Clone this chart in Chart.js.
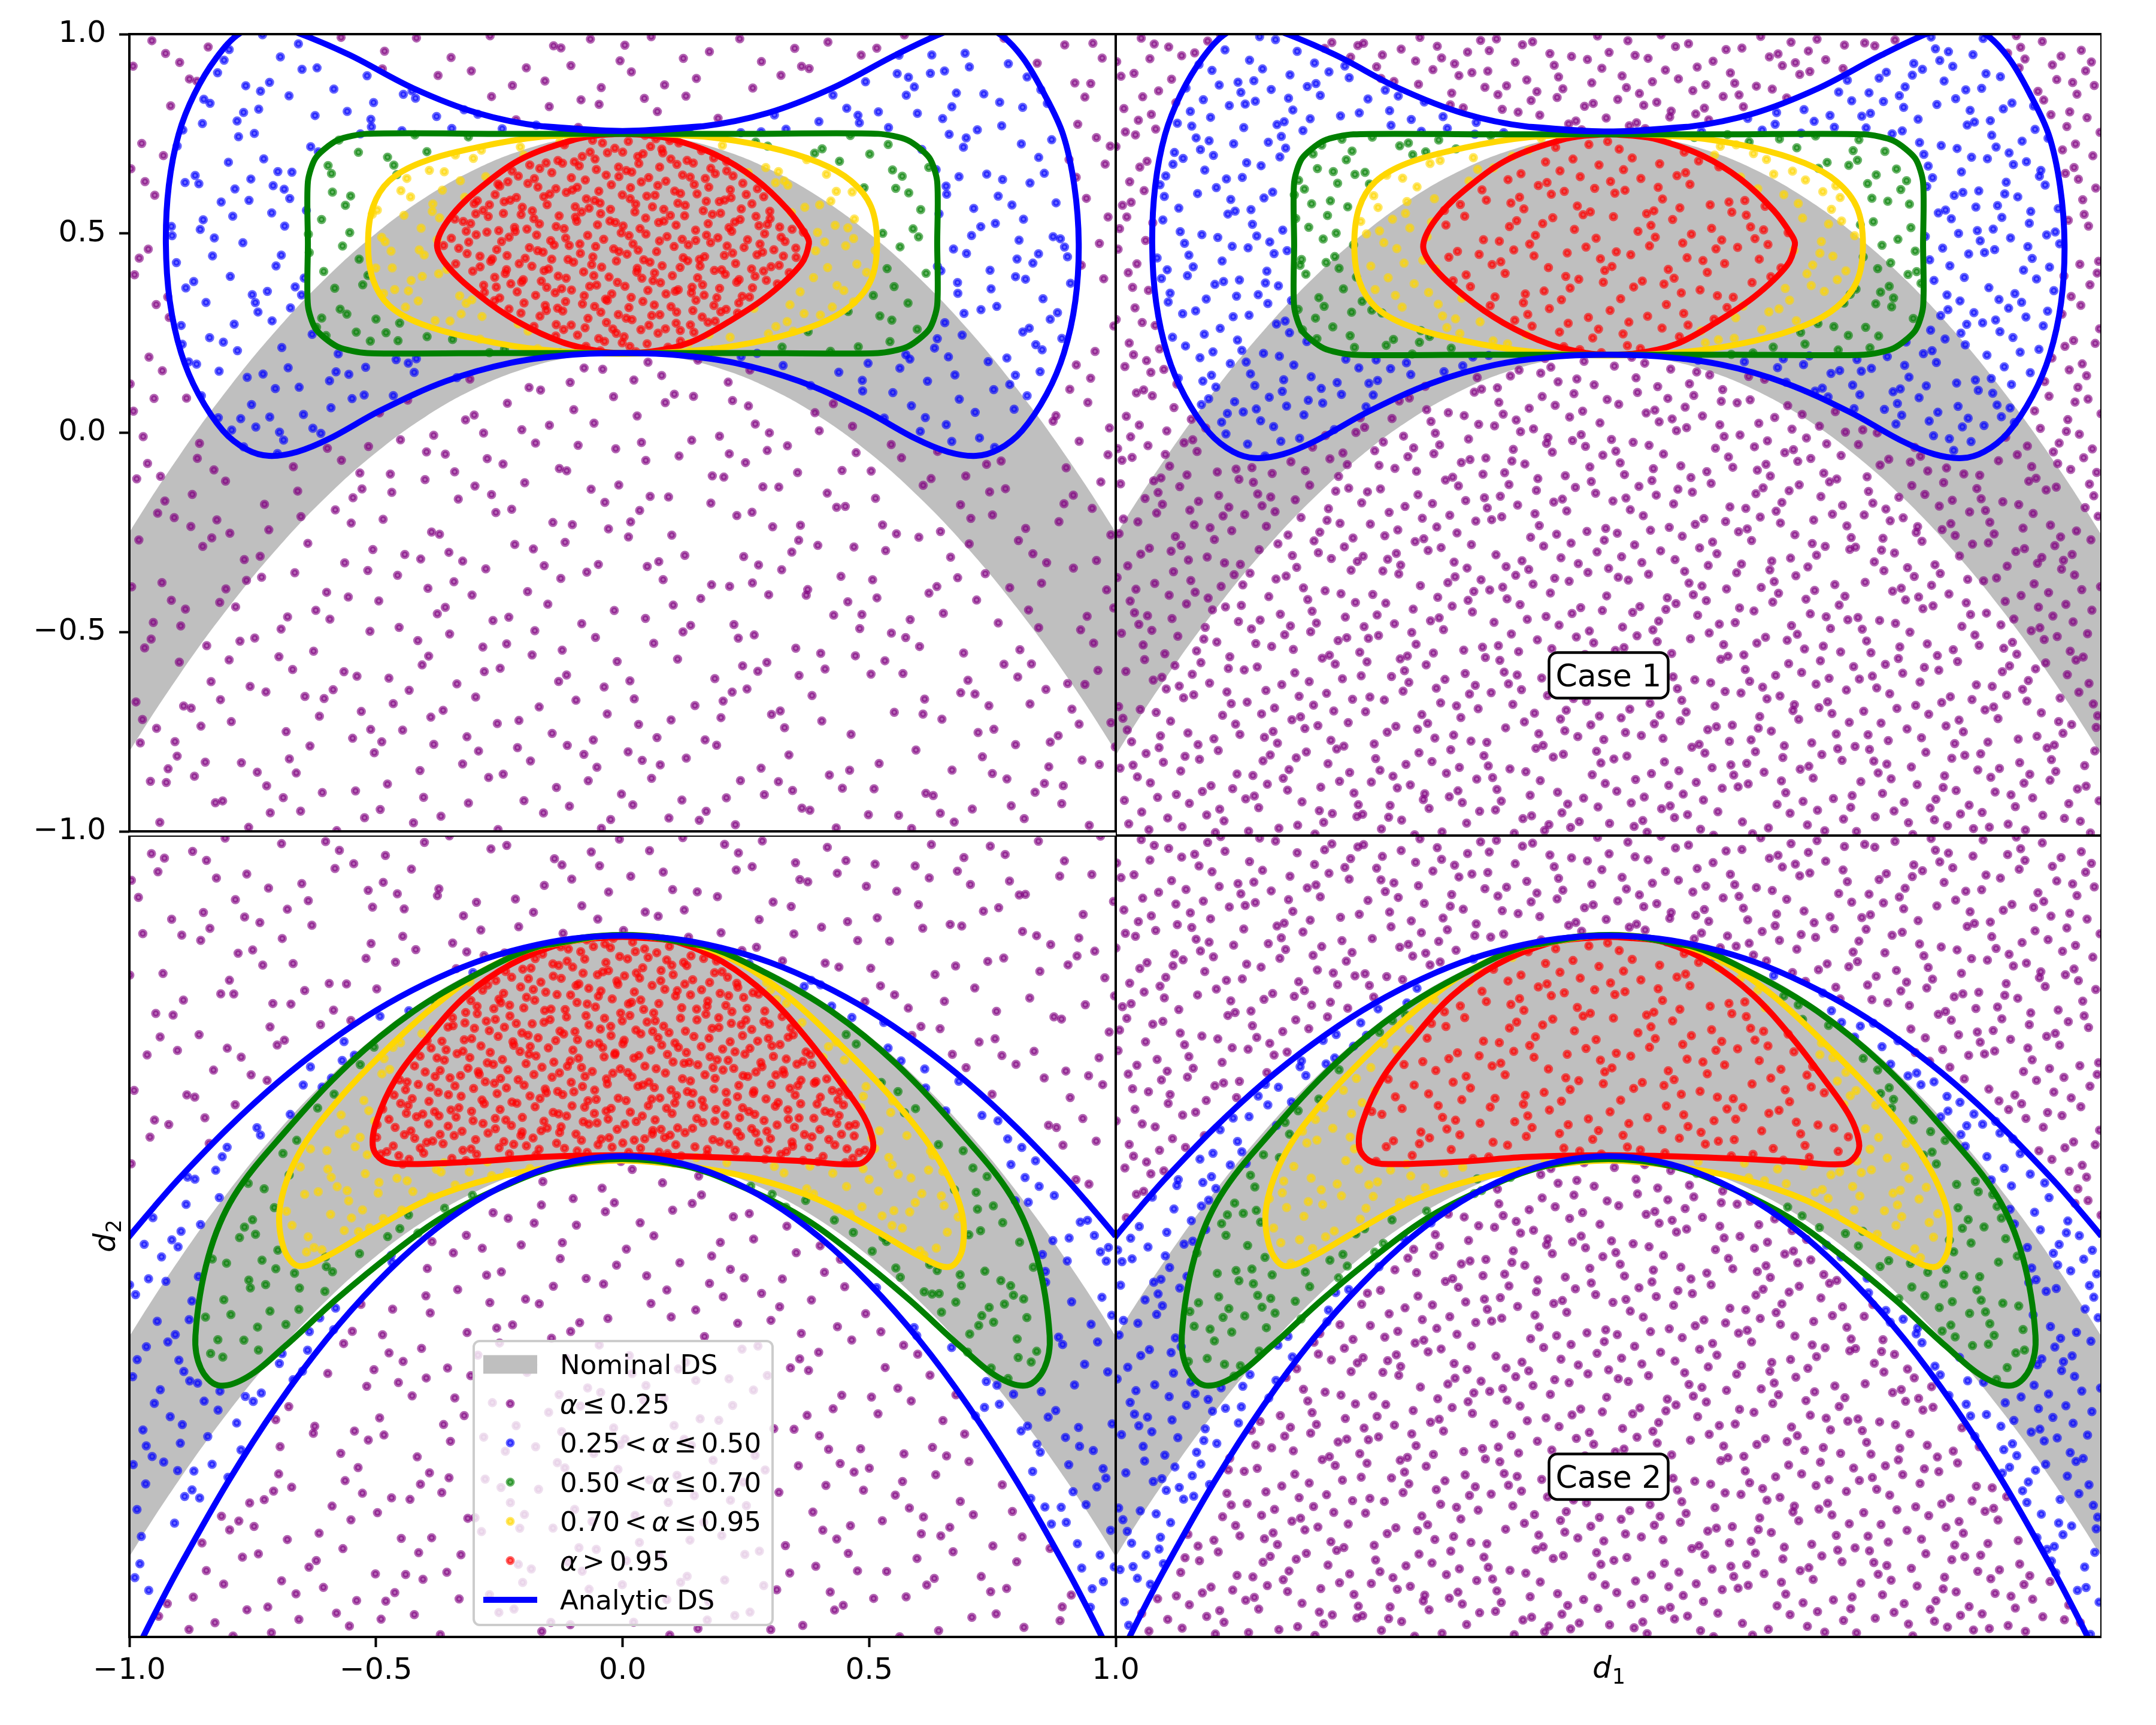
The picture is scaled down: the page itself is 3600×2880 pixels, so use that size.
<!DOCTYPE html>
<html>
<head>
<meta charset="utf-8">
<script src="https://cdn.jsdelivr.net/npm/chart.js@4.4.1/dist/chart.umd.min.js"></script>
<style>
  html, body { margin: 0; padding: 0; background: #ffffff; }
  #fig { position: relative; width: 3600px; height: 2880px; background: #ffffff; overflow: hidden; }
  #fig canvas { position: absolute; }
</style>
</head>
<body>
<div id="fig">
  <canvas id="tl"></canvas>
  <canvas id="tr"></canvas>
  <canvas id="bl"></canvas>
  <canvas id="br"></canvas>
</div>
<script>
// ---------------- data ----------------
const TICK_VALUES = [-1, -0.5, 0, 0.5, 1];
const TICK_LABELS = ['\u22121.0', '\u22120.5', '0.0', '0.5', '1.0'];

// Nominal DS band (grey), same in all four panels
const NOMINAL_D1    = [-1.1, -1.0, -0.9, -0.8, -0.7, -0.6, -0.5, -0.4, -0.3, -0.2, -0.1, 0, 0.1, 0.2, 0.3, 0.4, 0.5, 0.6, 0.7, 0.8, 0.9, 1.0, 1.1];
const NOMINAL_UPPER = [-0.46, -0.25, -0.06, 0.11, 0.26, 0.39, 0.5, 0.59, 0.66, 0.71, 0.74, 0.75, 0.74, 0.71, 0.66, 0.59, 0.5, 0.39, 0.26, 0.11, -0.06, -0.25, -0.46];
const NOMINAL_LOWER = [-1.01, -0.8, -0.61, -0.44, -0.29, -0.16, -0.05, 0.04, 0.11, 0.16, 0.19, 0.2, 0.19, 0.16, 0.11, 0.04, -0.05, -0.16, -0.29, -0.44, -0.61, -0.8, -1.01];

// Case 1 (top row) contours, closed curves [d1, d2]
const CASE1_ANALYTIC = [[0,0.757],[0.164,0.769],[0.294,0.802],[0.424,0.864],[0.554,0.948],[0.655,1.006],[0.712,1.024],[0.765,1.0],[0.812,0.94],[0.855,0.85],[0.893,0.749],[0.916,0.62],[0.925,0.475],[0.918,0.33],[0.895,0.2],[0.86,0.097],[0.81,0.005],[0.762,-0.042],[0.717,-0.058],[0.66,-0.048],[0.593,-0.014],[0.489,0.057],[0.359,0.129],[0.229,0.175],[0.099,0.196],[0,0.2],[-0.099,0.196],[-0.229,0.175],[-0.359,0.129],[-0.489,0.057],[-0.593,-0.014],[-0.66,-0.048],[-0.717,-0.058],[-0.762,-0.042],[-0.81,0.005],[-0.86,0.097],[-0.895,0.2],[-0.918,0.33],[-0.926,0.475],[-0.92,0.62],[-0.9,0.749],[-0.868,0.85],[-0.824,0.94],[-0.775,1.003],[-0.718,1.024],[-0.66,1.004],[-0.554,0.948],[-0.424,0.864],[-0.294,0.802],[-0.164,0.769]];
const CASE1_A50 = [[0,0.75],[0.26,0.75],[0.518,0.75],[0.578,0.734],[0.622,0.69],[0.638,0.63],[0.638,0.475],[0.638,0.32],[0.622,0.26],[0.578,0.216],[0.518,0.2],[0.26,0.2],[0,0.2],[-0.26,0.2],[-0.518,0.2],[-0.578,0.216],[-0.622,0.26],[-0.638,0.32],[-0.638,0.475],[-0.638,0.63],[-0.622,0.69],[-0.578,0.734],[-0.518,0.75],[-0.26,0.75]];
const CASE1_A70 = [[0,0.753],[0.164,0.743],[0.294,0.717],[0.398,0.678],[0.463,0.632],[0.504,0.567],[0.516,0.475],[0.504,0.384],[0.463,0.319],[0.398,0.273],[0.294,0.234],[0.164,0.208],[0,0.198],[-0.161,0.208],[-0.291,0.234],[-0.408,0.273],[-0.473,0.319],[-0.506,0.384],[-0.516,0.475],[-0.506,0.567],[-0.473,0.632],[-0.408,0.678],[-0.291,0.717],[-0.161,0.743]];
const CASE1_A95 = [[0,0.75],[0.045,0.747],[0.099,0.737],[0.19,0.697],[0.268,0.638],[0.335,0.56],[0.372,0.497],[0.378,0.475],[0.362,0.423],[0.296,0.345],[0.216,0.279],[0.138,0.227],[0.06,0.204],[0,0.2],[-0.044,0.204],[-0.122,0.227],[-0.213,0.279],[-0.291,0.345],[-0.358,0.423],[-0.376,0.475],[-0.345,0.547],[-0.278,0.625],[-0.2,0.69],[-0.096,0.736],[-0.045,0.747]];

// Case 2 (bottom row): analytic DS between two curves, plus closed contours
const CASE2_D1 = [-1.05, -1.0, -0.95, -0.9, -0.8, -0.7, -0.6, -0.5, -0.4, -0.3, -0.2, -0.1, 0, 0.1, 0.2, 0.3, 0.4, 0.5, 0.6, 0.7, 0.8, 0.9, 0.95, 1.0, 1.05];
const CASE2_ANALYTIC_UPPER = [-0.077, 0, 0.073, 0.143, 0.27, 0.383, 0.48, 0.563, 0.63, 0.683, 0.72, 0.743, 0.75, 0.743, 0.72, 0.683, 0.63, 0.563, 0.48, 0.383, 0.27, 0.143, 0.073, 0, -0.077];
const CASE2_ANALYTIC_LOWER = [-1.2, -1.07, -0.946, -0.829, -0.613, -0.422, -0.257, -0.118, -0.003, 0.086, 0.149, 0.187, 0.2, 0.187, 0.149, 0.086, -0.003, -0.118, -0.257, -0.422, -0.613, -0.829, -0.946, -1.07, -1.2];
const CASE2_A50 = [[0,0.752],[0.164,0.725],[0.294,0.655],[0.424,0.561],[0.554,0.431],[0.684,0.261],[0.788,0.1],[0.84,-0.052],[0.866,-0.248],[0.855,-0.33],[0.82,-0.372],[0.762,-0.352],[0.684,-0.274],[0.58,-0.157],[0.463,-0.039],[0.359,0.052],[0.229,0.131],[0.125,0.176],[0,0.193],[-0.125,0.176],[-0.229,0.131],[-0.359,0.052],[-0.463,-0.039],[-0.58,-0.157],[-0.684,-0.274],[-0.762,-0.352],[-0.82,-0.372],[-0.855,-0.33],[-0.866,-0.248],[-0.84,-0.052],[-0.788,0.1],[-0.684,0.261],[-0.554,0.431],[-0.424,0.561],[-0.294,0.655],[-0.164,0.725]];
const CASE2_A70 = [[0,0.752],[0.138,0.731],[0.242,0.679],[0.333,0.601],[0.437,0.483],[0.541,0.352],[0.632,0.209],[0.684,0.078],[0.69,-0.026],[0.664,-0.076],[0.606,-0.052],[0.515,0.013],[0.398,0.091],[0.268,0.144],[0.125,0.176],[0,0.189],[-0.122,0.176],[-0.265,0.144],[-0.395,0.091],[-0.512,0.013],[-0.603,-0.052],[-0.658,-0.074],[-0.688,-0.026],[-0.694,0.078],[-0.655,0.209],[-0.577,0.339],[-0.486,0.457],[-0.382,0.574],[-0.278,0.666],[-0.161,0.725]];
const CASE2_A95 = [[0,0.747],[0.05,0.744],[0.112,0.734],[0.203,0.685],[0.294,0.601],[0.372,0.496],[0.437,0.392],[0.489,0.3],[0.508,0.235],[0.502,0.202],[0.476,0.18],[0.359,0.188],[0.164,0.198],[0,0.202],[-0.164,0.198],[-0.291,0.187],[-0.447,0.18],[-0.486,0.189],[-0.506,0.222],[-0.499,0.287],[-0.46,0.392],[-0.395,0.496],[-0.317,0.601],[-0.226,0.679],[-0.122,0.731],[-0.05,0.744]];

// Sample design (sample locations; colour class follows from the contours above)
const UNIFORM_SAMPLES = 2048;                        // right column: quasi-random uniform design
const ADAPTIVE_DENSITY = [230, 330, 380, 520, 1300]; // left column: samples per unit area per alpha class
const LEVEL_COLORS = ['rgba(128,0,128,0.6)', 'rgba(0,0,255,0.6)', 'rgba(0,128,0,0.6)', 'rgba(255,215,0,0.6)', 'rgba(255,0,0,0.6)'];
const LINE_COLORS = ['#0000ff', '#008000', '#ffd700', '#ff0000'];
const LEGEND_LABELS = ['Nominal DS', '\u03b1 \u2264 0.25', '0.25 < \u03b1 \u2264 0.50', '0.50 < \u03b1 \u2264 0.70', '0.70 < \u03b1 \u2264 0.95', '\u03b1 > 0.95', 'Analytic DS'];
const CASE_LABELS = ['Case 1', 'Case 2'];
const CASE_LABEL_POS = [0, -0.6];

// ---------------- helpers ----------------
Chart.defaults.font.family = "'DejaVu Sans'";
Chart.defaults.color = '#000000';

function radicalInverse(i, base) {
  let r = 0, f = 1 / base;
  while (i > 0) { r += f * (i % base); i = Math.floor(i / base); f /= base; }
  return r;
}
function inPoly(x, y, poly) {
  let inside = false;
  for (let i = 0, j = poly.length - 1; i < poly.length; j = i++) {
    const xi = poly[i][0], yi = poly[i][1], xj = poly[j][0], yj = poly[j][1];
    if (((yi > y) !== (yj > y)) && (x < (xj - xi) * (y - yi) / (yj - yi) + xi)) inside = !inside;
  }
  return inside;
}
const CASE2_ANALYTIC_POLY = CASE2_D1.map((x, i) => [x, CASE2_ANALYTIC_UPPER[i]])
  .concat(CASE2_D1.map((x, i) => [x, CASE2_ANALYTIC_LOWER[i]]).reverse());
const LEVELS = [
  [CASE1_ANALYTIC, CASE1_A50, CASE1_A70, CASE1_A95],
  [CASE2_ANALYTIC_POLY, CASE2_A50, CASE2_A70, CASE2_A95]
];
function alphaClass(x, y, lv) {
  if (inPoly(x, y, lv[3])) return 4;
  if (inPoly(x, y, lv[2])) return 3;
  if (inPoly(x, y, lv[1])) return 2;
  if (inPoly(x, y, lv[0])) return 1;
  return 0;
}
function uniformDesign(caseIdx) {
  const out = [];
  for (let i = 1; i <= UNIFORM_SAMPLES; i++) {
    const x = 2 * radicalInverse(i, 2) - 1, y = 2 * radicalInverse(i, 3) - 1;
    out.push({ x, y, c: alphaClass(x, y, LEVELS[caseIdx]) });
  }
  return out;
}
function adaptiveDesign(caseIdx, start) {
  const out = [];
  const dmax = Math.max(...ADAPTIVE_DENSITY);
  const n = dmax * 4;
  for (let i = 0; i < n; i++) {
    const k = start + i * 409;
    const x = 2 * radicalInverse(k, 2) - 1, y = 2 * radicalInverse(k, 3) - 1, u = radicalInverse(k, 5);
    const c = alphaClass(x, y, LEVELS[caseIdx]);
    if (u < ADAPTIVE_DENSITY[c] / dmax) out.push({ x, y, c });
  }
  return out;
}
function closedLoop(pts) {
  const n = pts.length;
  const seq = [pts[n - 1]].concat(pts, [pts[0], pts[1]]);
  return seq.map(p => ({ x: p[0], y: p[1] }));
}
function lineDs(data, color, tension) {
  return { data, showLine: true, borderColor: color, borderWidth: 10, pointRadius: 0, pointHoverRadius: 0,
           fill: false, tension: tension, order: 1, clip: 0 };
}
function buildDatasets(caseIdx, samples) {
  const ds = [];
  ds.push({ data: NOMINAL_D1.map((x, i) => ({ x, y: NOMINAL_UPPER[i] })), showLine: true, borderWidth: 0,
            borderColor: 'rgba(0,0,0,0)', pointRadius: 0, fill: '+1', backgroundColor: '#bfbfbf', tension: 0.4, order: 20, clip: 0 });
  ds.push({ data: NOMINAL_D1.map((x, i) => ({ x, y: NOMINAL_LOWER[i] })), showLine: true, borderWidth: 0,
            borderColor: 'rgba(0,0,0,0)', pointRadius: 0, fill: false, tension: 0.4, order: 20, clip: 0 });
  for (let c = 0; c < 5; c++) {
    ds.push({ data: samples.filter(s => s.c === c), showLine: false, pointRadius: 5, pointHoverRadius: 5,
              pointBorderWidth: 5.5, pointBackgroundColor: LEVEL_COLORS[c], pointBorderColor: LEVEL_COLORS[c],
              order: 10 - c, clip: 0 });
  }
  if (caseIdx === 0) {
    ds.push(lineDs(closedLoop(CASE1_ANALYTIC), LINE_COLORS[0], 0.35));
    ds.push(lineDs(closedLoop(CASE1_A50), LINE_COLORS[1], 0.25));
    ds.push(lineDs(closedLoop(CASE1_A70), LINE_COLORS[2], 0.35));
    ds.push(lineDs(closedLoop(CASE1_A95), LINE_COLORS[3], 0.35));
  } else {
    ds.push(lineDs(CASE2_D1.map((x, i) => ({ x, y: CASE2_ANALYTIC_UPPER[i] })), LINE_COLORS[0], 0.35));
    ds.push(lineDs(CASE2_D1.map((x, i) => ({ x, y: CASE2_ANALYTIC_LOWER[i] })), LINE_COLORS[0], 0.35));
    ds.push(lineDs(closedLoop(CASE2_A50), LINE_COLORS[1], 0.35));
    ds.push(lineDs(closedLoop(CASE2_A70), LINE_COLORS[2], 0.35));
    ds.push(lineDs(closedLoop(CASE2_A95), LINE_COLORS[3], 0.35));
  }
  return ds;
}
function tickLabel(v) {
  let best = 0;
  for (let i = 0; i < TICK_VALUES.length; i++) if (Math.abs(TICK_VALUES[i] - v) < Math.abs(TICK_VALUES[best] - v)) best = i;
  return TICK_LABELS[best];
}
function mixedText(ctx, text, x, y, size) {
  // mathtext-like: alpha in italic, narrow spacing around relations
  const words = text.split(' ');
  const gap = size * 0.17;
  let cx = x;
  ctx.textAlign = 'left';
  words.forEach((wd, wi) => {
    const parts = wd.split(/(\u03b1)/).filter(p => p.length);
    parts.forEach(p => {
      ctx.font = (p === '\u03b1' ? 'italic ' : '') + size + "px 'DejaVu Sans'";
      ctx.fillText(p, cx, y);
      cx += ctx.measureText(p).width;
    });
    if (wi < words.length - 1) cx += (text.indexOf('\u03b1') >= 0 ? gap : size * 0.318);
  });
}
function roundRect(ctx, x, y, w, h, r) {
  ctx.beginPath();
  ctx.moveTo(x + r, y); ctx.lineTo(x + w - r, y); ctx.arcTo(x + w, y, x + w, y + r, r);
  ctx.lineTo(x + w, y + h - r); ctx.arcTo(x + w, y + h, x + w - r, y + h, r);
  ctx.lineTo(x + r, y + h); ctx.arcTo(x, y + h, x, y + h - r, r);
  ctx.lineTo(x, y + r); ctx.arcTo(x, y, x + r, y, r); ctx.closePath();
}
function drawSubLabel(ctx, base, sub, cx, cy, rotate) {
  ctx.save();
  ctx.translate(cx, cy);
  if (rotate) ctx.rotate(-Math.PI / 2);
  ctx.fillStyle = '#000';
  ctx.textBaseline = 'alphabetic';
  ctx.font = "italic 50px 'DejaVu Sans'";
  const wb = ctx.measureText(base).width;
  ctx.font = "35px 'DejaVu Sans'";
  const ws = ctx.measureText(sub).width;
  const x0 = -(wb + ws) / 2;
  ctx.font = "italic 50px 'DejaVu Sans'";
  ctx.fillText(base, x0, 18);
  ctx.font = "35px 'DejaVu Sans'";
  ctx.fillText(sub, x0 + wb + 1, 28);
  ctx.restore();
}
function drawCaseBox(chart, text) {
  const ctx = chart.ctx;
  const x = chart.scales.x.getPixelForValue(CASE_LABEL_POS[0]);
  const y = chart.scales.y.getPixelForValue(CASE_LABEL_POS[1]);
  const w = 199, h = 76;
  ctx.save();
  roundRect(ctx, x - w / 2, y - h / 2, w, h, 14);
  ctx.fillStyle = '#ffffff'; ctx.fill();
  ctx.lineWidth = 4.5; ctx.strokeStyle = '#000000'; ctx.stroke();
  ctx.fillStyle = '#000'; ctx.textBaseline = 'alphabetic';
  ctx.font = "52px 'DejaVu Sans'"; ctx.textAlign = 'center';
  ctx.fillText(text, x, y + 19);
  ctx.restore();
}
function drawLegend(chart, offY) {
  const ctx = chart.ctx;
  const bx = 791, by = 2239 - offY, bw = 499, bh = 474;
  ctx.save();
  roundRect(ctx, bx, by, bw, bh, 10);
  ctx.fillStyle = 'rgba(255,255,255,0.8)'; ctx.fill();
  ctx.lineWidth = 4; ctx.strokeStyle = '#cccccc'; ctx.stroke();
  const row0 = 2278 - offY, step = 65.5;
  for (let i = 0; i < LEGEND_LABELS.length; i++) {
    const cy = row0 + i * step;
    if (i === 0) {
      ctx.fillStyle = '#bfbfbf'; ctx.fillRect(807, cy - 15.5, 90, 31);
    } else if (i === LEGEND_LABELS.length - 1) {
      ctx.strokeStyle = LINE_COLORS[0]; ctx.lineWidth = 10;
      ctx.beginPath(); ctx.moveTo(807, cy); ctx.lineTo(897, cy); ctx.stroke();
    } else {
      ctx.fillStyle = LEVEL_COLORS[i - 1]; ctx.strokeStyle = LEVEL_COLORS[i - 1]; ctx.lineWidth = 5;
      ctx.beginPath(); ctx.arc(852, cy, 5, 0, Math.PI * 2); ctx.fill(); ctx.stroke();
    }
    ctx.fillStyle = '#000'; ctx.textBaseline = 'alphabetic';
    mixedText(ctx, LEGEND_LABELS[i], 935, cy + 16.4, 45);
  }
  ctx.restore();
}

const EXTRAS = {
  tl: null,
  tr: (chart) => drawCaseBox(chart, CASE_LABELS[0]),
  bl: (chart) => { drawLegend(chart, 1395); drawSubLabel(chart.ctx, 'd', '2', chart.chartArea.left - 42, (chart.chartArea.top + chart.chartArea.bottom) / 2, true); },
  br: (chart) => { drawCaseBox(chart, CASE_LABELS[1]); drawSubLabel(chart.ctx, 'd', '1', (chart.chartArea.left + chart.chartArea.right) / 2, chart.chartArea.bottom + 50, false); }
};
const framePlugin = {
  id: 'panelFrame',
  afterDraw(chart) {
    const ctx = chart.ctx, a = chart.chartArea;
    ctx.save();
    ctx.strokeStyle = '#000'; ctx.lineWidth = 4;
    ctx.strokeRect(a.left, a.top, a.right - a.left, a.bottom - a.top);
    ctx.restore();
    const f = EXTRAS[chart.canvas.id];
    if (f) f(chart);
  }
};

function hiddenAxis() { return { type: 'linear', min: -1, max: 1, display: false }; }
function tickAxis(isX, size) {
  return {
    type: 'linear', min: -1, max: 1, position: isX ? 'bottom' : 'left',
    afterFit: (s) => { if (isX) s.height = size; else s.width = size; },
    afterBuildTicks: (s) => { s.ticks = TICK_VALUES.map(v => ({ value: v })); },
    ticks: { font: { size: 50 }, color: '#000', padding: isX ? 10 : 22, autoSkip: false, maxRotation: 0, minRotation: 0,
             callback: (v) => tickLabel(v) },
    grid: { drawOnChartArea: false, drawTicks: true, tickLength: 17, tickWidth: 4, tickColor: '#000' },
    border: { display: false }
  };
}

const PANELS = [
  { id: 'tl', left: 0, top: 0, w: 1863, h: 1440, caseIdx: 0, samples: () => adaptiveDesign(0, 1),
    scales: { x: hiddenAxis(), y: tickAxis(false, 216) }, padding: { top: 57, bottom: 45, left: 0, right: 0 } },
  { id: 'tr', left: 1863, top: 0, w: 1646, h: 1395, caseIdx: 0, samples: () => uniformDesign(0),
    scales: { x: hiddenAxis(), y: hiddenAxis() }, padding: { top: 57, bottom: 0, left: 0, right: 0 } },
  { id: 'bl', left: 0, top: 1395, w: 1960, h: 1485, caseIdx: 1, samples: () => adaptiveDesign(1, 200003),
    scales: { x: tickAxis(true, 147), y: hiddenAxis() }, padding: { top: 0, bottom: 0, left: 216, right: 97 } },
  { id: 'br', left: 1863, top: 1395, w: 1646, h: 1485, caseIdx: 1, samples: () => uniformDesign(1),
    scales: { x: hiddenAxis(), y: hiddenAxis() }, padding: { top: 0, bottom: 147, left: 0, right: 0 } }
];

PANELS.forEach(p => {
  const cv = document.getElementById(p.id);
  cv.width = p.w; cv.height = p.h;
  cv.style.left = p.left + 'px'; cv.style.top = p.top + 'px';
  cv.style.width = p.w + 'px'; cv.style.height = p.h + 'px';
  new Chart(cv, {
    type: 'scatter',
    data: { datasets: buildDatasets(p.caseIdx, p.samples()) },
    options: {
      animation: false, responsive: false, devicePixelRatio: 1, events: [],
      layout: { autoPadding: false, padding: p.padding },
      plugins: { legend: { display: false }, tooltip: { enabled: false } },
      elements: { line: { capBezierPoints: false } },
      scales: p.scales
    },
    plugins: [framePlugin]
  });
});
</script>
</body>
</html>
